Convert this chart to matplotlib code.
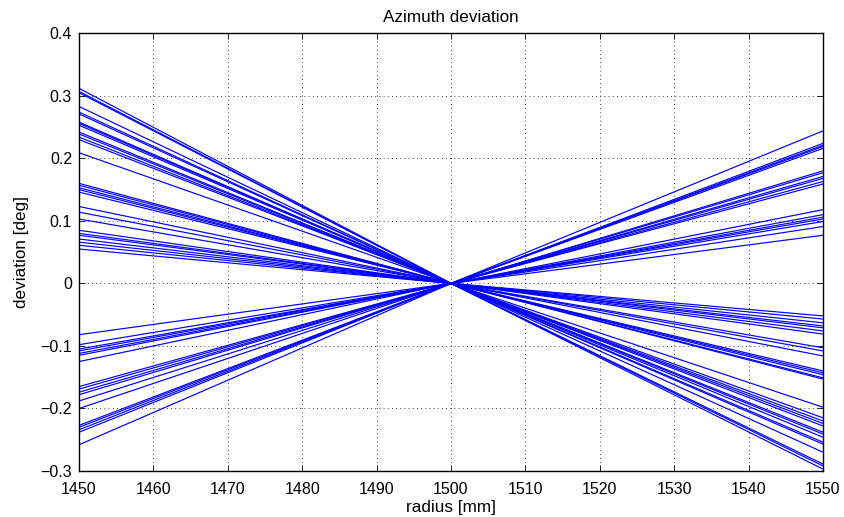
import matplotlib
matplotlib.use("Agg")
import matplotlib.pyplot as plt
import numpy as np

plt.rcParams['font.family'] = ['Liberation Sans', 'DejaVu Sans']

# radius samples: inner edge, reference radius, outer edge [mm]
radius = [1450, 1500, 1550]

# deviation [deg] at the inner edge (r = 1450) for each measurement
dev_inner = [0.312, 0.307, 0.305, 0.283, 0.274, 0.271, 0.258, 0.256, 0.253,
             0.242, 0.239, 0.234, 0.230, 0.209, 0.160, 0.157, 0.153, 0.150,
             0.146, 0.123, 0.114, 0.103, 0.085, 0.080, 0.077, 0.071, 0.066,
             0.061, 0.055,
             -0.082, -0.098, -0.105, -0.108, -0.112, -0.115, -0.125, -0.165,
             -0.169, -0.174, -0.178, -0.188, -0.200, -0.227, -0.230, -0.234,
             -0.238, -0.258]

# deviation [deg] at the outer edge (r = 1550) for the same measurements
dev_outer = [-0.297, -0.292, -0.289, -0.270, -0.257, -0.254, -0.246, -0.241,
             -0.238, -0.228, -0.224, -0.220, -0.215, -0.198, -0.153, -0.151,
             -0.146, -0.143, -0.140, -0.116, -0.108, -0.103, -0.081, -0.076,
             -0.071, -0.068, -0.063, -0.057, -0.052,
             0.077, 0.091, 0.099, 0.103, 0.106, 0.110, 0.118, 0.159,
             0.163, 0.168, 0.171, 0.177, 0.180, 0.216, 0.219, 0.221,
             0.224, 0.244]

# deviation at the reference radius is zero by definition
dev_ref = 0.0

fig = plt.figure(figsize=(8.44, 5.17), dpi=100)
ax = fig.add_axes([79 / 844, 1 - 471 / 517, 744 / 844, (471 - 33.3) / 517])

for a, b in zip(dev_inner, dev_outer):
    ax.plot(radius, [a, dev_ref, b], color=(0, 0, 1), linewidth=0.85)

ax.set_xlim(1450, 1550)
ax.set_ylim(-0.3, 0.4)
ax.set_xticks(np.arange(1450, 1551, 10))
ax.set_yticks(np.round(np.arange(-0.3, 0.41, 0.1), 1))
ax.set_yticklabels(['\u22120.3', '\u22120.2', '\u22120.1', '0', '0.1', '0.2', '0.3', '0.4'])

ax.grid(True, color='black', linestyle=(0, (1, 4)), linewidth=0.6)
ax.tick_params(direction='in', length=4, width=0.6, labelsize=11.5, top=True, right=True,
               colors='black')
ax.tick_params(axis='x', pad=8)
ax.tick_params(axis='y', pad=5)
for s in ax.spines.values():
    s.set_linewidth(1.0)

ax.set_title('Azimuth deviation', fontsize=12.3, pad=8)
ax.set_xlabel('radius [mm]', fontsize=12.3, labelpad=2)
ax.set_ylabel('deviation [deg]', fontsize=12.3, labelpad=8)

fig.savefig('out.png', dpi=100)
